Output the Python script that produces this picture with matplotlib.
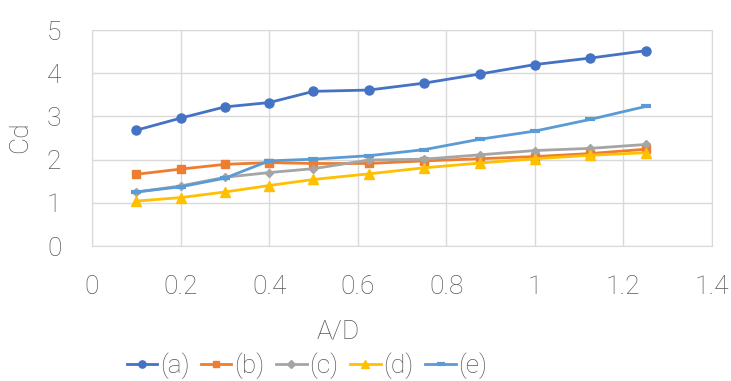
import matplotlib.pyplot as plt
import numpy as np

plt.rcParams['font.family'] = ['Roboto', 'DejaVu Sans']

ad = [0.1, 0.2, 0.3, 0.4, 0.5, 0.625, 0.75, 0.875, 1.0, 1.125, 1.25]
cd_a = [2.68, 2.96, 3.22, 3.32, 3.58, 3.61, 3.77, 3.98, 4.20, 4.35, 4.52]
cd_b = [1.66, 1.78, 1.89, 1.93, 1.91, 1.91, 1.97, 2.02, 2.07, 2.14, 2.24]
cd_c = [1.25, 1.39, 1.59, 1.70, 1.79, 1.99, 2.01, 2.11, 2.21, 2.26, 2.35]
cd_d = [1.04, 1.12, 1.25, 1.40, 1.54, 1.67, 1.81, 1.92, 2.02, 2.10, 2.16]
cd_e = [1.25, 1.37, 1.57, 1.97, 2.01, 2.09, 2.23, 2.47, 2.66, 2.93, 3.23]
labels = ['(a)', '(b)', '(c)', '(d)', '(e)']

txt = '#595959'
gridc = '#d9d9d9'
fs = 19

fig = plt.figure(figsize=(7.31, 3.81), dpi=100)
ax = fig.add_axes([92/731, 1 - 246/381, 620/731, 216/381])

ax.plot(ad, cd_a, color='#4472C4', marker='o', ms=6.5, lw=2, label=labels[0])
ax.plot(ad, cd_b, color='#ED7D31', marker='s', ms=6, lw=2, label=labels[1])
ax.plot(ad, cd_c, color='#A5A5A5', marker='D', ms=4.5, lw=2, label=labels[2])
ax.plot(ad, cd_d, color='#FFC000', marker='^', ms=6.5, lw=2, label=labels[3])
ax.plot(ad, cd_e, color='#5B9BD5', marker='_', ms=7, mew=3, lw=2, label=labels[4])

ax.set_xlim(0, 1.4)
ax.set_ylim(0, 5)
ax.set_xticks(np.arange(0, 1.41, 0.2))
ax.set_xticklabels(['0', '0.2', '0.4', '0.6', '0.8', '1', '1.2', '1.4'])
ax.set_yticks(range(6))
ax.grid(True, color=gridc, lw=1)
ax.set_axisbelow(True)
for s in ax.spines.values():
    s.set_color(gridc)
ax.tick_params(axis='x', length=0, labelsize=fs, colors=txt, pad=21)
ax.tick_params(axis='y', length=0, labelsize=fs, colors=txt, pad=22)
for t in ax.get_xticklabels() + ax.get_yticklabels():
    t.set_fontweight('light')

ax.set_xlabel('A/D', fontsize=fs, color=txt, fontweight='light', va='center')
ax.xaxis.set_label_coords(0.397, -0.398)
ax.set_ylabel('Cd', fontsize=fs, color=txt, fontweight='light', va='center', ha='center')
ax.yaxis.set_label_coords(-0.116, 0.505)

fig.legend(*ax.get_legend_handles_labels(), loc='center',
           bbox_to_anchor=(307/731, 1 - 366/381), ncol=5, frameon=False,
           labelcolor=txt, handlelength=1.15, handletextpad=0.1,
           columnspacing=0.45, markerscale=0.8, borderpad=0,
           prop={'weight': 'light', 'size': fs})

fig.savefig('out.png', dpi=100)
